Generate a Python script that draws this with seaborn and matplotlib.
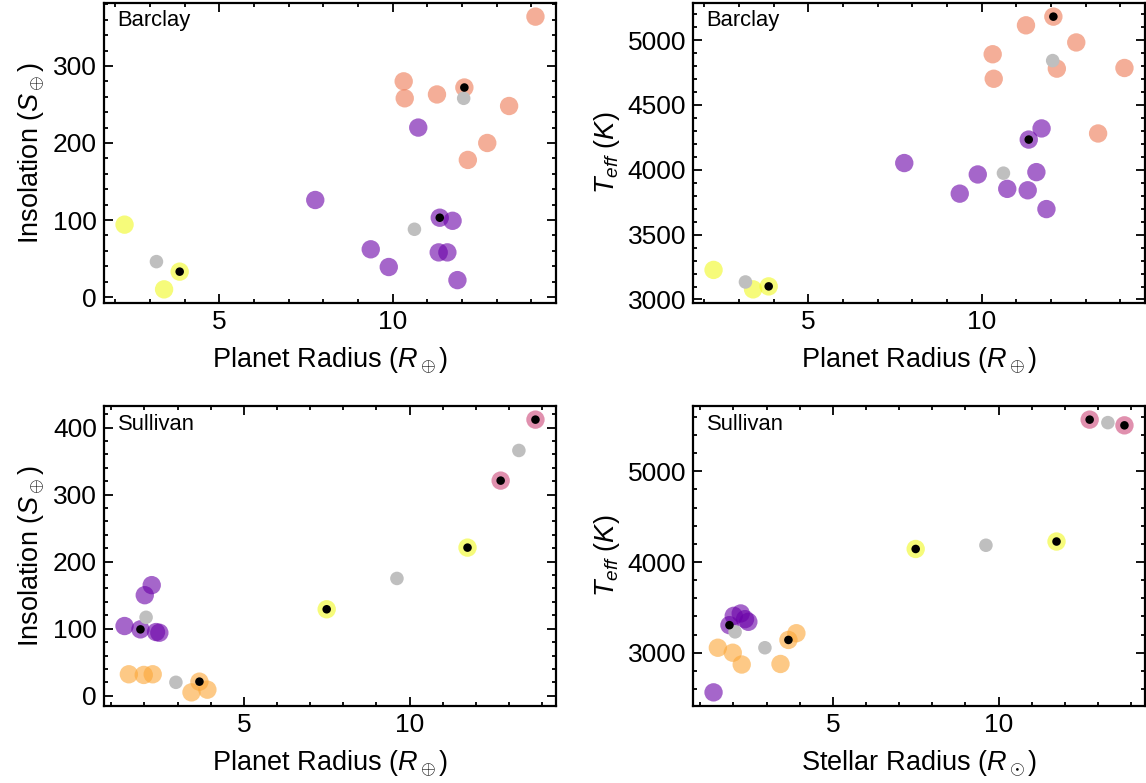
import matplotlib
matplotlib.use("Agg")
import matplotlib.pyplot as plt
from matplotlib.ticker import MultipleLocator
import seaborn as sns
import pandas as pd

# ---------------- data ----------------
# Barclay sample (top row): planet radius, insolation, Teff
barclay_salmon_rp = [14.12, 10.32, 10.35, 11.28, 12.07, 13.36, 12.73, 12.17]
barclay_salmon_ins = [364, 280, 258, 263, 272, 248, 200, 178]
barclay_salmon_teff = [4785, 4891, 4702, 5114, 5181, 4280, 4982, 4780]
barclay_salmon_flag = [0, 0, 0, 0, 1, 0, 0, 0]

barclay_purple_rp = [10.74, 7.77, 11.36, 11.73, 9.37, 9.89, 11.33, 11.58, 11.87]
barclay_purple_ins = [220, 126, 103, 99, 62, 39, 58, 58, 22]
barclay_purple_teff = [3853, 4052, 4233, 4319, 3816, 3964, 3842, 3982, 3697]
barclay_purple_flag = [0, 0, 1, 0, 0, 0, 0, 0, 0]

barclay_yellow_rp = [2.27, 3.86, 3.41]
barclay_yellow_ins = [94, 33, 10]
barclay_yellow_teff = [3228, 3101, 3078]
barclay_yellow_flag = [0, 1, 0]

barclay_gray_rp = [12.05, 10.63, 3.19]
barclay_gray_ins = [258, 88, 46]
barclay_gray_teff = [4842, 3974, 3135]

# Sullivan sample (bottom row): radius, insolation, Teff
sullivan_pink_r = [13.80, 12.75]
sullivan_pink_ins = [412, 321]
sullivan_pink_teff = [5507, 5570]
sullivan_pink_flag = [1, 1]

sullivan_yellow_r = [11.75, 7.50]
sullivan_yellow_ins = [221, 129]
sullivan_yellow_teff = [4226, 4144]
sullivan_yellow_flag = [1, 1]

sullivan_purple_r = [2.22, 2.01, 1.40, 1.88, 2.35, 2.45]
sullivan_purple_ins = [165, 150, 104, 99, 95, 94]
sullivan_purple_teff = [3433, 3407, 2563, 3304, 3370, 3341]
sullivan_purple_flag = [0, 0, 0, 1, 0, 0]

sullivan_orange_r = [1.53, 1.98, 2.25, 3.66, 3.90, 3.42]
sullivan_orange_ins = [32, 31, 32, 21, 9, 5]
sullivan_orange_teff = [3055, 3000, 2870, 3141, 3215, 2876]
sullivan_orange_flag = [0, 0, 0, 1, 0, 0]

sullivan_gray_r = [13.30, 9.62, 2.05, 2.95]
sullivan_gray_ins = [366, 175, 117, 20]
sullivan_gray_teff = [5537, 4185, 3230, 3055]

# ---------------- style ----------------
sns.set_style("ticks")
plt.rcParams["font.family"] = ["Liberation Sans", "DejaVu Sans"]
plt.rcParams["mathtext.fontset"] = "custom"
plt.rcParams["mathtext.rm"] = "Liberation Sans"
plt.rcParams["mathtext.it"] = "Liberation Sans:italic"
plt.rcParams["mathtext.bf"] = "Liberation Sans:bold"
for k in ["text.color", "axes.labelcolor", "xtick.color", "ytick.color",
          "axes.edgecolor"]:
    plt.rcParams[k] = "black"

COL = {
    "purple": "#6a00a8",
    "salmon": "#ed7953",
    "yellow": "#f0f921",
    "orange": "#fca636",
    "pink": "#cc4778",
}
GRAY = "#bfbfbf"
ALPHA = 0.6
S_BIG = 175
S_GRAY = 95
S_DOT = 38

fig = plt.figure(figsize=(11.46, 7.83), dpi=100)
W, H = 1146, 783
def make_ax(x0, y0, x1, y1):
    return fig.add_axes([x0 / W, 1 - y1 / H, (x1 - x0) / W, (y1 - y0) / H])

ax_tl = make_ax(104, 3, 556, 303)
ax_tr = make_ax(693, 3, 1145, 303)
ax_bl = make_ax(104, 406, 556, 706)
ax_br = make_ax(693, 406, 1145, 706)


def panel(ax, groups, gray, label):
    # colored groups
    for name, xs, ys, flags in groups:
        df = pd.DataFrame({"x": xs, "y": ys})
        sns.scatterplot(data=df, x="x", y="y", ax=ax, color=COL[name],
                        alpha=ALPHA, s=S_BIG, edgecolor="none", linewidth=0,
                        legend=False, zorder=2)
    gx, gy = gray
    sns.scatterplot(data=pd.DataFrame({"x": gx, "y": gy}), x="x", y="y", ax=ax,
                    color=GRAY, alpha=1.0, s=S_GRAY, edgecolor="none",
                    linewidth=0, legend=False, zorder=3)
    # black dots for flagged targets
    fx, fy = [], []
    for name, xs, ys, flags in groups:
        for xv, yv, f in zip(xs, ys, flags):
            if f:
                fx.append(xv)
                fy.append(yv)
    sns.scatterplot(data=pd.DataFrame({"x": fx, "y": fy}), x="x", y="y", ax=ax,
                    color="black", s=S_DOT, edgecolor="none", linewidth=0,
                    legend=False, zorder=4)
    ax.text(0.03, 0.975, label, transform=ax.transAxes, ha="left", va="top",
            fontsize=15.8)
    ax.tick_params(which="both", direction="in", top=True, right=True,
                   labelsize=19, width=1.3)
    ax.tick_params(which="major", length=6.5, pad=5)
    ax.tick_params(which="minor", length=3.2)
    for sp in ax.spines.values():
        sp.set_linewidth(1.6)
        sp.set_color("black")
    ax.xaxis.set_major_locator(MultipleLocator(5))
    ax.xaxis.set_minor_locator(MultipleLocator(1))


panel(ax_tl,
      [("salmon", barclay_salmon_rp, barclay_salmon_ins, barclay_salmon_flag),
       ("purple", barclay_purple_rp, barclay_purple_ins, barclay_purple_flag),
       ("yellow", barclay_yellow_rp, barclay_yellow_ins, barclay_yellow_flag)],
      (barclay_gray_rp, barclay_gray_ins), "Barclay")
panel(ax_tr,
      [("salmon", barclay_salmon_rp, barclay_salmon_teff, barclay_salmon_flag),
       ("purple", barclay_purple_rp, barclay_purple_teff, barclay_purple_flag),
       ("yellow", barclay_yellow_rp, barclay_yellow_teff, barclay_yellow_flag)],
      (barclay_gray_rp, barclay_gray_teff), "Barclay")
panel(ax_bl,
      [("pink", sullivan_pink_r, sullivan_pink_ins, sullivan_pink_flag),
       ("yellow", sullivan_yellow_r, sullivan_yellow_ins, sullivan_yellow_flag),
       ("purple", sullivan_purple_r, sullivan_purple_ins, sullivan_purple_flag),
       ("orange", sullivan_orange_r, sullivan_orange_ins, sullivan_orange_flag)],
      (sullivan_gray_r, sullivan_gray_ins), "Sullivan")
panel(ax_br,
      [("pink", sullivan_pink_r, sullivan_pink_teff, sullivan_pink_flag),
       ("yellow", sullivan_yellow_r, sullivan_yellow_teff, sullivan_yellow_flag),
       ("purple", sullivan_purple_r, sullivan_purple_teff, sullivan_purple_flag),
       ("orange", sullivan_orange_r, sullivan_orange_teff, sullivan_orange_flag)],
      (sullivan_gray_r, sullivan_gray_teff), "Sullivan")

ax_tl.yaxis.set_major_locator(MultipleLocator(100))
ax_tl.yaxis.set_minor_locator(MultipleLocator(20))
ax_tr.yaxis.set_major_locator(MultipleLocator(500))
ax_tr.yaxis.set_minor_locator(MultipleLocator(100))
ax_bl.yaxis.set_major_locator(MultipleLocator(100))
ax_bl.yaxis.set_minor_locator(MultipleLocator(20))
ax_br.yaxis.set_major_locator(MultipleLocator(1000))
ax_br.yaxis.set_minor_locator(MultipleLocator(200))

LS = 19.5
XP = 8
ax_tl.set_xlabel(r"Planet Radius ($R_\oplus$)", fontsize=LS, labelpad=XP)
ax_tr.set_xlabel(r"Planet Radius ($R_\oplus$)", fontsize=LS, labelpad=XP)
ax_bl.set_xlabel(r"Planet Radius ($R_\oplus$)", fontsize=LS, labelpad=XP)
ax_br.set_xlabel(r"Stellar Radius ($R_\odot$)", fontsize=LS, labelpad=XP)
ax_tl.set_ylabel(r"Insolation ($S_\oplus$)", fontsize=LS)
ax_bl.set_ylabel(r"Insolation ($S_\oplus$)", fontsize=LS)
ax_tr.set_ylabel(r"$T_{eff}$ ($K$)", fontsize=LS)
ax_br.set_ylabel(r"$T_{eff}$ ($K$)", fontsize=LS)

fig.savefig("out.png", dpi=100)
